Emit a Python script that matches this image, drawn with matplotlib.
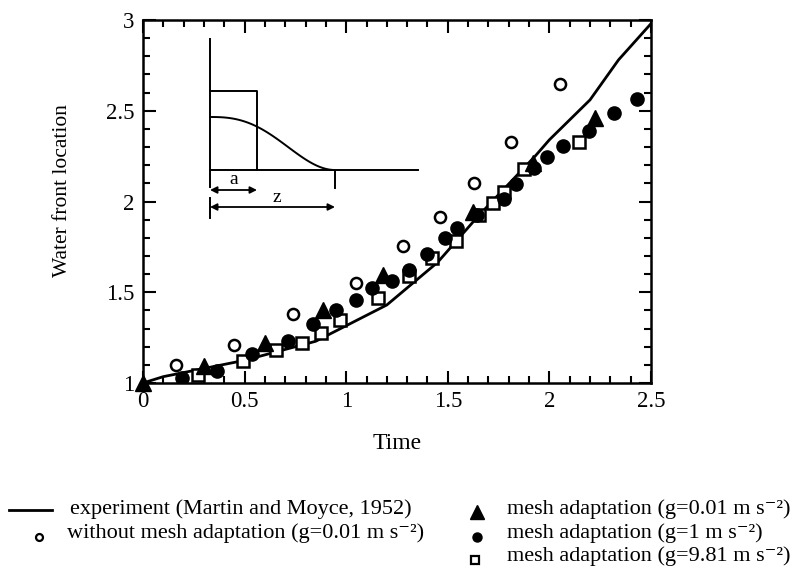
import matplotlib
matplotlib.use("Agg")
import matplotlib.pyplot as plt
from matplotlib.lines import Line2D
from matplotlib.ticker import MultipleLocator, FuncFormatter
import numpy as np

# experiment (Martin and Moyce, 1952)
exp_t = [0.0, 0.1, 0.5, 0.85, 1.2, 1.45, 1.65, 1.93, 2.0, 2.2, 2.34, 2.5]
exp_z = [1.0, 1.035, 1.125, 1.23, 1.43, 1.665, 1.92, 2.25, 2.34, 2.56, 2.78, 2.98]

# without mesh adaptation (g=0.01)
nomesh_t = [0.16, 0.45, 0.74, 1.05, 1.28, 1.46, 1.63, 1.81, 2.05]
nomesh_z = [1.10, 1.21, 1.38, 1.553, 1.755, 1.914, 2.104, 2.33, 2.647]

# mesh adaptation g=0.01
tri_t = [0.0, 0.3, 0.6, 0.887, 1.183, 1.623, 1.921, 2.224]
tri_z = [1.0, 1.094, 1.219, 1.402, 1.595, 1.942, 2.21, 2.458]

# mesh adaptation g=1
dot_t = [0.19, 0.366, 0.535, 0.715, 0.835, 0.95, 1.047, 1.129, 1.224, 1.31,
         1.396, 1.486, 1.544, 1.642, 1.775, 1.834, 1.926, 1.987, 2.068,
         2.195, 2.318, 2.43]
dot_z = [1.026, 1.068, 1.158, 1.231, 1.325, 1.402, 1.457, 1.522, 1.563, 1.62,
         1.712, 1.797, 1.852, 1.924, 2.015, 2.095, 2.183, 2.243, 2.306,
         2.39, 2.486, 2.563]

# mesh adaptation g=9.81
sq_t = [0.272, 0.49, 0.655, 0.781, 0.874, 0.969, 1.158, 1.308, 1.42, 1.538,
        1.653, 1.724, 1.778, 1.876, 2.147]
sq_z = [1.044, 1.123, 1.182, 1.222, 1.274, 1.347, 1.467, 1.592, 1.69, 1.78,
        1.925, 1.99, 2.054, 2.177, 2.33]

plt.rcParams["font.family"] = ["Liberation Serif", "DejaVu Serif"]

W, H = 798, 568
fig = plt.figure(figsize=(W / 100, H / 100), dpi=100)
ax = fig.add_axes([143 / W, 1 - 383 / H, 508 / W, 363 / H])

ax.plot(exp_t, exp_z, color="black", lw=2.0, zorder=2)
ax.plot(nomesh_t, nomesh_z, "o", mfc="white", mec="black", mew=1.8, ms=8, zorder=3)
ax.plot(sq_t, sq_z, "s", mfc="white", mec="black", mew=1.8, ms=8, zorder=3)
ax.plot(dot_t, dot_z, "o", color="black", ms=9.5, zorder=4)
ax.plot(tri_t, tri_z, "^", color="black", ms=12, zorder=5, clip_on=False)

ax.set_xlim(0, 2.5)
ax.set_ylim(1, 3)
ax.xaxis.set_major_locator(MultipleLocator(0.5))
ax.xaxis.set_minor_locator(MultipleLocator(0.1))
ax.yaxis.set_major_locator(MultipleLocator(0.5))
ax.yaxis.set_minor_locator(MultipleLocator(0.1))
ax.xaxis.set_major_formatter(FuncFormatter(lambda v, p: f"{v:g}"))
ax.yaxis.set_major_formatter(FuncFormatter(lambda v, p: f"{v:g}"))
ax.tick_params(which="both", direction="in", top=True, right=True,
               width=1.5, labelsize=16.5)
ax.tick_params(which="major", length=9, pad=6)
ax.tick_params(which="minor", length=5)
for s in ax.spines.values():
    s.set_linewidth(1.8)
ax.set_xlabel("Time", fontsize=17, labelpad=15)
ax.set_ylabel("Water front location", fontsize=15.5)
ax.yaxis.set_label_coords(-0.14, 0.53)

# inset schematic of the dam-break problem, drawn in figure pixels
sk = fig.add_axes([0, 0, 1, 1], facecolor="none")
sk.set_xlim(0, W)
sk.set_ylim(H, 0)
sk.axis("off")
k = dict(color="black", lw=1.4)
sk.plot([210, 210], [39, 187], **k)
sk.plot([210, 418], [170, 170], **k)
sk.plot([210, 257, 257], [91, 91, 170], **k)
sk.plot([335, 335], [170, 188], **k)
sk.plot([210, 210], [198, 218], **k)
tt = np.linspace(0, 1, 80)
sk.plot(210 + 125 * tt, 170 - 53 * 0.5 * (1 + np.cos(np.pi * tt ** 1.3)), **k)
arr = dict(arrowstyle="<|-|>", color="black", lw=1.3, mutation_scale=10,
           shrinkA=0, shrinkB=0)
sk.annotate("", xy=(210, 190), xytext=(257, 190), arrowprops=arr)
sk.annotate("", xy=(210, 207), xytext=(335, 207), arrowprops=arr)
sk.text(234, 179, "a", ha="center", va="center", fontsize=14)
sk.text(277, 198, "z", ha="center", va="center", fontsize=14)

# legend below the axes
fs = 16
sup = "\u207b\u00b2"
sk.add_line(Line2D([9, 52], [510, 510], color="black", lw=2))
sk.text(70, 509, "experiment (Martin and Moyce, 1952)", fontsize=fs, va="center")
sk.plot([39], [537], "o", mfc="white", mec="black", mew=1.6, ms=5)
sk.text(67, 533, "without mesh adaptation (g=0.01 m s" + sup + ")",
        fontsize=fs, va="center")
sk.plot([477], [512], "^", color="black", ms=10)
sk.text(507, 509, "mesh adaptation (g=0.01 m s" + sup + ")",
        fontsize=fs, va="center")
sk.plot([477], [537], "o", color="black", ms=6.5)
sk.text(507, 533, "mesh adaptation (g=1 m s" + sup + ")",
        fontsize=fs, va="center")
sk.plot([475], [560], "s", mfc="white", mec="black", mew=1.6, ms=5.5)
sk.text(507, 556, "mesh adaptation (g=9.81 m s" + sup + ")",
        fontsize=fs, va="center")

fig.savefig("out.png", dpi=100)
